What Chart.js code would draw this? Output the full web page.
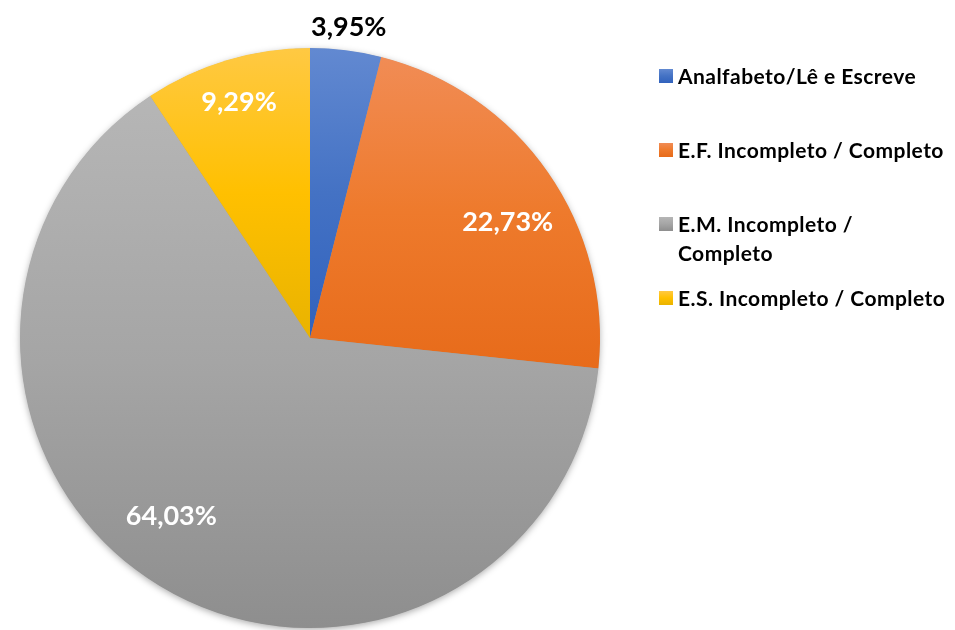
<!DOCTYPE html>
<html>
<head>
<meta charset="utf-8">
<script src="https://cdn.jsdelivr.net/npm/chart.js@4.4.1/dist/chart.umd.min.js"></script>
<style>
  html,body{margin:0;padding:0;background:#fff;}
  #wrap{position:relative;width:955px;height:630px;}
  #c{position:absolute;left:0;top:0;}
  #legend{position:absolute;left:659px;top:0;font-family:Lato,"Open Sans",sans-serif;font-weight:700;font-size:21px;letter-spacing:0.45px;color:#000;}
  .item{position:absolute;left:0;white-space:nowrap;line-height:29px;}
  .sw{position:absolute;left:0;width:14px;height:14px;}
  .txt{position:absolute;left:19px;}
</style>
</head>
<body>
<div id="wrap">
  <canvas id="c" width="955" height="630"></canvas>
  <div id="legend"></div>
</div>
<script>
const categories = ['Analfabeto/Lê e Escreve', 'E.F. Incompleto / Completo', ['E.M. Incompleto /', 'Completo'], 'E.S. Incompleto / Completo'];
const values = [3.95, 22.73, 64.03, 9.29];
const valueLabels = ['3,95%', '22,73%', '64,03%', '9,29%'];

const gradStops = [
  ['#6289d1', '#4472c4', '#3162bd'],
  ['#f18c55', '#ee7a2c', '#e76b1a'],
  ['#b6b6b6', '#a5a5a5', '#8e8e8e'],
  ['#ffc943', '#ffc000', '#e9b300']
];

function sliceBounds(chart, i) {
  const a = chart.chartArea;
  const cx = (a.left + a.right) / 2, cy = (a.top + a.bottom) / 2;
  const r = Math.min(a.right - a.left, a.bottom - a.top) / 2;
  const total = values.reduce((s, v) => s + v, 0);
  let cum = 0;
  for (let k = 0; k < i; k++) cum += values[k];
  const s = -Math.PI / 2 + cum / total * 2 * Math.PI;
  const e = s + values[i] / total * 2 * Math.PI;
  const ys = [cy, cy + r * Math.sin(s), cy + r * Math.sin(e)];
  const inR = (ang) => { let t = ang; while (t < s) t += 2 * Math.PI; return t <= e; };
  if (inR(-Math.PI / 2)) ys.push(cy - r);
  if (inR(Math.PI / 2)) ys.push(cy + r);
  return [Math.min(...ys), Math.max(...ys)];
}

function bg(ctx) {
  const chart = ctx.chart;
  const i = ctx.dataIndex;
  if (!chart.chartArea || i === undefined) return gradStops[i || 0][1];
  const [t, b] = sliceBounds(chart, i);
  const g = chart.ctx.createLinearGradient(0, t, 0, b);
  g.addColorStop(0, gradStops[i][0]);
  g.addColorStop(0.5, gradStops[i][1]);
  g.addColorStop(1, gradStops[i][2]);
  return g;
}

const shadowPlugin = {
  id: 'shadow',
  beforeDatasetsDraw(chart) {
    const a = chart.chartArea;
    const cx = (a.left + a.right) / 2, cy = (a.top + a.bottom) / 2;
    const r = Math.min(a.right - a.left, a.bottom - a.top) / 2;
    const c = chart.ctx;
    c.save();
    c.shadowColor = 'rgba(0,0,0,0.35)';
    c.shadowBlur = 7;
    c.shadowOffsetY = 2;
    c.fillStyle = '#9a9a9a';
    c.beginPath();
    c.arc(cx, cy, r - 0.5, 0, 2 * Math.PI);
    c.fill();
    c.restore();
  }
};

const labelPlugin = {
  id: 'sliceLabels',
  afterDatasetsDraw(chart, args, opts) {
    const meta = chart.getDatasetMeta(0);
    const c = chart.ctx;
    c.save();
    c.font = opts.font;
    c.textAlign = 'center';
    c.textBaseline = 'middle';
    meta.data.forEach((arc, i) => {
      const p = arc.getProps(['x', 'y', 'startAngle', 'endAngle', 'outerRadius'], true);
      const mid = (p.startAngle + p.endAngle) / 2 + opts.angleShift[i] * Math.PI / 180;
      const rr = p.outerRadius * opts.radius[i];
      c.fillStyle = opts.colors[i];
      c.fillText(valueLabels[i], p.x + rr * Math.cos(mid), p.y + rr * Math.sin(mid));
    });
    c.restore();
  }
};

new Chart(document.getElementById('c'), {
  type: 'pie',
  data: {
    labels: categories,
    datasets: [{ data: values, backgroundColor: bg, borderWidth: 0, hoverOffset: 0 }]
  },
  options: {
    responsive: false,
    animation: false,
    layout: { padding: { left: 20, right: 355, top: 48, bottom: 2 } },
    plugins: {
      legend: { display: false },
      tooltip: { enabled: false },
      sliceLabels: {
        font: 'bold 27px Lato, "Open Sans", sans-serif',
        colors: ['#000000', '#ffffff', '#ffffff', '#ffffff'],
        radius: [1.08, 0.79, 0.78, 0.85],
        angleShift: [0, 4.5, 6.5, 0]
      }
    }
  },
  plugins: [shadowPlugin, labelPlugin]
});

// HTML legend built from the same arrays
const legendTops = [61, 135, 209, 283];
const lg = document.getElementById('legend');
categories.forEach((lab, i) => {
  const lines = Array.isArray(lab) ? lab : [lab];
  const it = document.createElement('div');
  it.className = 'item';
  it.style.top = legendTops[i] + 'px';
  const sw = document.createElement('div');
  sw.className = 'sw';
  sw.style.top = '8px';
  sw.style.background = 'linear-gradient(' + gradStops[i][0] + ',' + gradStops[i][1] + ',' + gradStops[i][2] + ')';
  const tx = document.createElement('div');
  tx.className = 'txt';
  tx.innerHTML = lines.join('<br>');
  it.appendChild(sw);
  it.appendChild(tx);
  lg.appendChild(it);
});
</script>
</body>
</html>
